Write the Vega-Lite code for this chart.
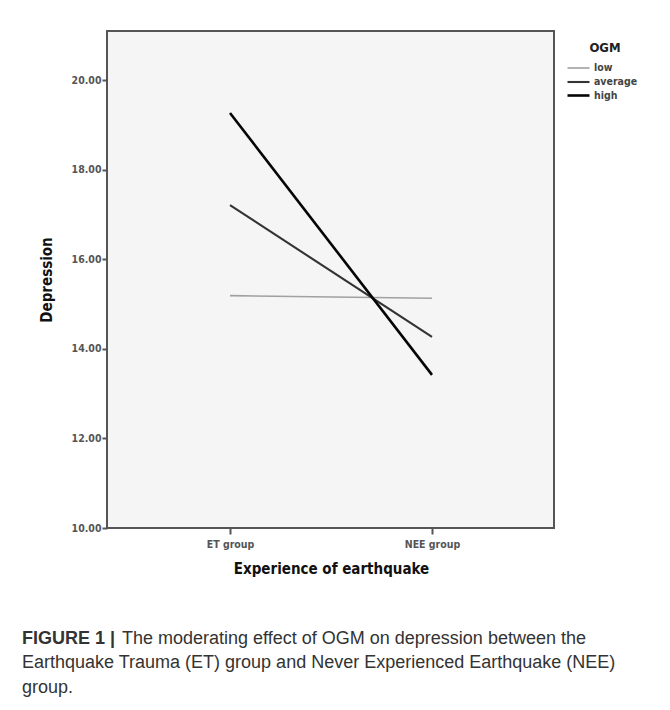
{
  "$schema": "https://vega.github.io/schema/vega-lite/v6.json",
  "width": 447,
  "height": 497,
  "autosize": "none",
  "padding": {"left": 107, "top": 31, "right": 116, "bottom": 182},
  "background": "white",
  "title": {
    "text": "FIGURE 1 |",
    "subtitle": [
      "\u200b\u00a0\u00a0\u00a0\u00a0\u00a0\u00a0\u00a0\u00a0\u00a0\u00a0\u00a0\u00a0\u00a0\u00a0\u00a0\u00a0\u00a0\u00a0\u00a0\u00a0The moderating effect of OGM on depression between the",
      "Earthquake Trauma (ET) group and Never Experienced Earthquake (NEE)",
      "group."
    ],
    "orient": "bottom",
    "anchor": "start",
    "frame": "group",
    "dx": -85,
    "offset": 53,
    "font": "Liberation Sans",
    "fontSize": 18,
    "fontWeight": "bold",
    "color": "#333333",
    "subtitleFont": "Liberation Sans",
    "subtitleFontSize": 18,
    "subtitleFontWeight": "normal",
    "subtitleColor": "#333333",
    "subtitleLineHeight": 24.5,
    "subtitlePadding": -18
  },
  "data": {
    "values": [
      {"group": "ET group", "OGM": "low", "Depression": 15.19},
      {"group": "NEE group", "OGM": "low", "Depression": 15.13},
      {"group": "ET group", "OGM": "average", "Depression": 17.21},
      {"group": "NEE group", "OGM": "average", "Depression": 14.27},
      {"group": "ET group", "OGM": "high", "Depression": 19.27},
      {"group": "NEE group", "OGM": "high", "Depression": 13.42}
    ]
  },
  "mark": {"type": "line", "strokeCap": "butt"},
  "encoding": {
    "x": {
      "field": "group",
      "type": "nominal",
      "sort": ["ET group", "NEE group"],
      "scale": {"type": "point", "range": [123, 325], "padding": 0},
      "title": "Experience of earthquake",
      "axis": {
        "labelAngle": 0,
        "grid": false,
        "domain": false,
        "tickColor": "#555555",
        "tickWidth": 2,
        "tickSize": 6,
        "labelFont": "DejaVu Sans Condensed, Liberation Sans Narrow, Open Sans",
        "labelFontSize": 10.5,
        "labelFontWeight": "bold",
        "labelColor": "#555555",
        "labelPadding": 5,
        "titleFont": "DejaVu Sans Condensed, Liberation Sans Narrow, Open Sans",
        "titleFontSize": 15,
        "titleFontWeight": "bold",
        "titleColor": "#111111",
        "titlePadding": 12
      }
    },
    "y": {
      "field": "Depression",
      "type": "quantitative",
      "scale": {"domain": [10, 21.1], "nice": false, "zero": false},
      "title": "Depression",
      "axis": {
        "values": [10, 12, 14, 16, 18, 20],
        "format": ".2f",
        "grid": false,
        "domain": false,
        "tickColor": "#555555",
        "tickWidth": 2,
        "tickSize": 5,
        "labelFont": "DejaVu Sans Condensed, Liberation Sans Narrow, Open Sans",
        "labelFontSize": 10.5,
        "labelFontWeight": "bold",
        "labelColor": "#555555",
        "labelPadding": 1,
        "titleFont": "DejaVu Sans Condensed, Liberation Sans Narrow, Open Sans",
        "titleFontSize": 15,
        "titleFontWeight": "bold",
        "titleColor": "#111111",
        "titlePadding": 17
      }
    },
    "color": {
      "field": "OGM",
      "type": "ordinal",
      "sort": ["low", "average", "high"],
      "scale": {"domain": ["low", "average", "high"], "range": ["#a0a0a0", "#333333", "#050505"]},
      "legend": {
        "orient": "none",
        "legendX": 465,
        "legendY": 11,
        "title": "OGM",
        "titleFont": "DejaVu Sans Condensed, Liberation Sans Narrow, Open Sans",
        "titleFontSize": 13,
        "titleFontWeight": "bold",
        "titleColor": "#222222",
        "titlePadding": 7,
        "titleAnchor": "middle",
        "symbolType": "M-2.2,0H2.2",
        "symbolSize": 100,
        "rowPadding": 1.5,
        "labelFont": "DejaVu Sans Condensed, Liberation Sans Narrow, Open Sans",
        "labelFontSize": 10.5,
        "labelFontWeight": "bold",
        "labelColor": "#444444",
        "labelOffset": 9
      }
    },
    "strokeWidth": {
      "field": "OGM",
      "type": "ordinal",
      "sort": ["low", "average", "high"],
      "scale": {"domain": ["low", "average", "high"], "range": [1.6, 2.6, 3.8]},
      "legend": null
    }
  },
  "config": {
    "view": {"fill": "#f5f5f5", "stroke": "#555555", "strokeWidth": 2}
  }
}
